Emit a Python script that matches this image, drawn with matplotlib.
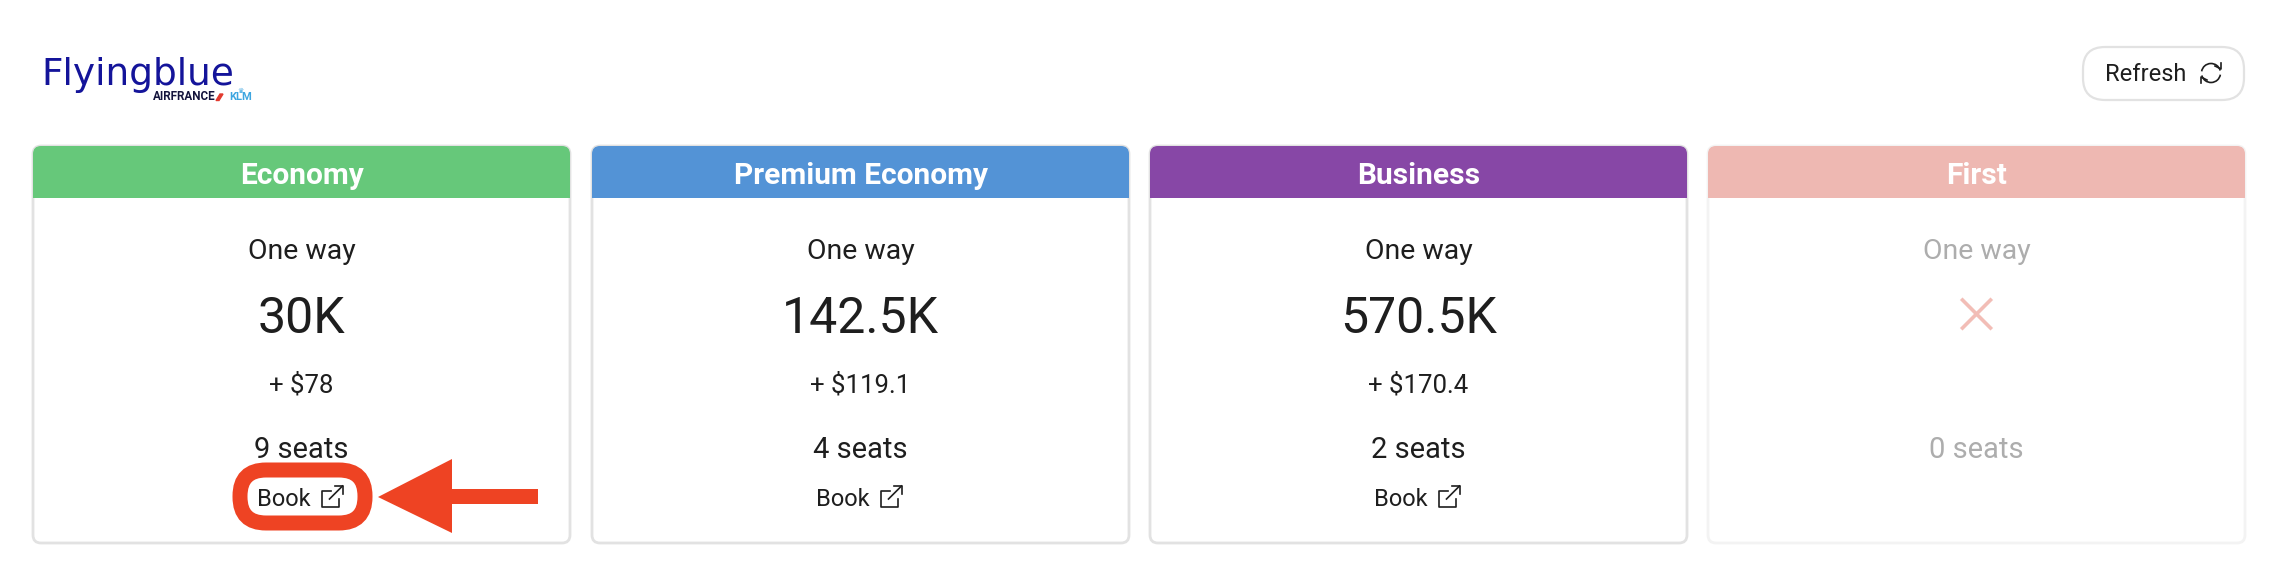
#!/usr/bin/env python
import matplotlib
matplotlib.use('Agg')

import matplotlib.pyplot as plt
from matplotlib.patches import FancyBboxPatch, Rectangle, Polygon, Arc

W, H = 2291, 561

cabins = ['Economy', 'Premium Economy', 'Business', 'First']
prices = ['30K', '142.5K', '570.5K', None]
taxes = ['+ $78', '+ $119.1', '+ $170.4', None]
seats = [9, 4, 2, 0]
header_colors = ['#66C87A', '#5393D6', '#8747A6', '#EEB8B2']
card_left = [33, 592, 1150, 1708]
card_right = [570, 1129, 1687, 2245]

RED = '#EE4323'
DARK = '#1e1e1e'
MUTED = '#adadad'

plt.rcParams['font.family'] = ['Roboto', 'DejaVu Sans']


def rbox(ax, x0, y0, x1, y1, r, **kw):
  ax.add_patch(FancyBboxPatch((x0 + r, y0 + r), x1 - x0 - 2 * r, y1 - y0 - 2 * r,
                              boxstyle='round,pad=%d,rounding_size=%d' % (r, r), **kw))


def link_icon(ax, cx, cy, color):
  # box with a gap in the top right corner and an arrow going out of it
  x0, x1, y0, y1 = cx + 20, cx + 37, cy - 6, cy + 10
  ax.plot([x0 + 9, x0, x0, x1, x1], [y0, y0, y1, y1, y0 + 8], color=color, lw=1.2, solid_joinstyle='round')
  ax.plot([x0 + 8, cx + 41], [y0 + 8, cy - 11], color=color, lw=1.2)
  ax.plot([cx + 33, cx + 41, cx + 41], [cy - 11, cy - 11, cy - 3], color=color, lw=1.2)


def draw_logo(ax):
  ax.text(41, 85, 'Flyingblue', color='#14149A', fontsize=27, family='DejaVu Sans', ha='left', va='baseline')
  ax.text(153, 100, 'AIRFRANCE', color='#14143c', fontsize=8.4, fontweight='bold', ha='left', va='baseline')
  ax.add_patch(Polygon([(216, 100.5), (219, 100.5), (223, 94), (220, 94)], color='#e23a2e'))
  ax.text(229, 100, 'KLM', color='#3ea6e0', fontsize=8, fontweight='bold', ha='left', va='baseline')
  ax.text(240, 91, '♛', color='#3ea6e0', fontsize=5, ha='center', va='center', family='DejaVu Sans')


def draw_refresh(ax):
  rbox(ax, 2083, 47, 2244, 100, 22, fc='white', ec='#e2e2e2', lw=1.6)
  ax.text(2105, 74, 'Refresh', color=DARK, fontsize=17, ha='left', va='center')
  cx, cy = 2211, 73
  ax.add_patch(Arc((cx, cy), 19, 19, theta1=190, theta2=345, color=DARK, lw=1.2))
  ax.add_patch(Arc((cx, cy), 19, 19, theta1=10, theta2=165, color=DARK, lw=1.2))
  ax.plot([cx + 4, cx + 10, cx + 10], [cy - 7, cy - 4, cy - 10], color=DARK, lw=1.2)
  ax.plot([cx - 4, cx - 10, cx - 10], [cy + 7, cy + 4, cy + 10], color=DARK, lw=1.2)


def draw_card(ax, i):
  x0, x1 = card_left[i], card_right[i]
  cx = (x0 + x1) / 2
  available = seats[i] > 0
  text_color = DARK if available else MUTED
  edge = '#e2e2e2' if available else '#f3f3f3'
  rbox(ax, x0, 146, x1, 543, 8, fc='white', ec=edge, lw=2)
  rbox(ax, x0, 146, x1, 175, 8, fc=header_colors[i], ec='none')
  ax.add_patch(Rectangle((x0, 160), x1 - x0, 38, fc=header_colors[i], ec='none'))
  ax.text(cx, 173, cabins[i], color='white', fontsize=21.5, fontweight='bold', ha='center', va='center_baseline')
  ax.text(cx, 248, 'One way', color=text_color, fontsize=20.5, ha='center', va='center_baseline')
  if prices[i]:
    ax.text(cx, 314, prices[i], color=DARK, fontsize=36, ha='center', va='center_baseline')
    ax.text(cx, 383, taxes[i], color=DARK, fontsize=18.5, ha='center', va='center_baseline')
  else:
    ax.plot([cx - 14, cx + 14], [300, 328], color='#F2BDB6', lw=2.6)
    ax.plot([cx - 14, cx + 14], [328, 300], color='#F2BDB6', lw=2.6)
  ax.text(cx, 447, '%d seats' % seats[i], color=text_color, fontsize=21, ha='center', va='center_baseline')
  if available:
    ax.text(cx - 18, 497, 'Book', color=DARK, fontsize=17, ha='center', va='center_baseline')
    link_icon(ax, cx, 497, DARK)


def draw_callout(ax):
  # red ring around the first Book button and the arrow pointing at it
  ring = FancyBboxPatch((255, 485), 95, 23, boxstyle='round,pad=15,rounding_size=26', fc='none', ec=RED, lw=10.8, zorder=1)
  ax.add_patch(ring)
  ax.add_patch(Polygon([(378, 497), (452, 459), (452, 533)], color=RED, lw=0))
  ax.add_patch(Rectangle((452, 489), 86, 15, color=RED, lw=0))


if __name__ == '__main__':
  fig = plt.figure(figsize=(W / 100, H / 100), dpi=100)
  ax = fig.add_axes([0, 0, 1, 1])
  ax.set_xlim(0, W)
  ax.set_ylim(H, 0)
  ax.axis('off')
  draw_logo(ax)
  draw_refresh(ax)
  for i in range(len(cabins)):
    draw_card(ax, i)
  draw_callout(ax)
  fig.savefig('out.png', dpi=100)
